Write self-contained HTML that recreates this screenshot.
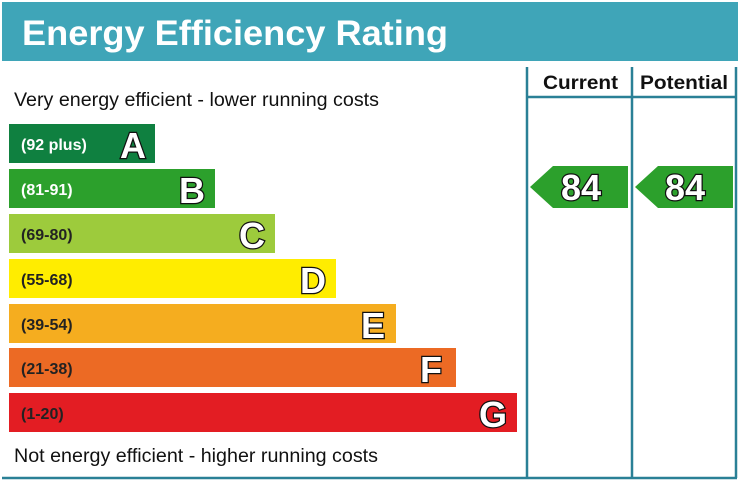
<!DOCTYPE html>
<html><head><style>html,body{margin:0;padding:0;background:#fff}svg{display:block}</style></head>
<body>
<svg width="738" height="483" xmlns="http://www.w3.org/2000/svg" font-family="Liberation Sans, Arial, sans-serif">
<rect x="0" y="0" width="738" height="483" fill="#fff"/>
<rect x="2" y="2" width="736" height="59" fill="#3fa5b8"/>
<text x="22" y="45" font-size="35" font-weight="bold" fill="#fff" textLength="426" lengthAdjust="spacingAndGlyphs">Energy Efficiency Rating</text>
<g stroke="#2a8096" stroke-width="2.5" fill="none">
<line x1="527" y1="67" x2="527" y2="478"/>
<line x1="632" y1="67" x2="632" y2="478"/>
<line x1="736" y1="67" x2="736" y2="478"/>
<line x1="527" y1="97" x2="737" y2="97"/>
<line x1="2" y1="478" x2="737" y2="478"/>
</g>
<text x="543" y="89" font-size="19" font-weight="bold" fill="#111" textLength="75" lengthAdjust="spacingAndGlyphs">Current</text>
<text x="640" y="89" font-size="19" font-weight="bold" fill="#111" textLength="88" lengthAdjust="spacingAndGlyphs">Potential</text>
<text x="14" y="106" font-size="19" fill="#111" textLength="365" lengthAdjust="spacingAndGlyphs">Very energy efficient - lower running costs</text>
<text x="14" y="462" font-size="19" fill="#111" textLength="364" lengthAdjust="spacingAndGlyphs">Not energy efficient - higher running costs</text>
<g font-weight="bold">
<rect x="9" y="124" width="146" height="39" fill="#0f8040"/>
<rect x="9" y="169" width="206" height="39" fill="#2ca02c"/>
<rect x="9" y="214" width="266" height="39" fill="#9dcb3c"/>
<rect x="9" y="259" width="327" height="39" fill="#ffed00"/>
<rect x="9" y="304" width="387" height="39" fill="#f5ad1f"/>
<rect x="9" y="348" width="447" height="39" fill="#ec6a24"/>
<rect x="9" y="393" width="508" height="39" fill="#e31d23"/>
<g font-size="16">
<text x="21" y="150" fill="#fff">(92 plus)</text>
<text x="21" y="195" fill="#fff">(81-91)</text>
<text x="21" y="240" fill="#222">(69-80)</text>
<text x="21" y="285" fill="#222">(55-68)</text>
<text x="21" y="330" fill="#222">(39-54)</text>
<text x="21" y="374" fill="#222">(21-38)</text>
<text x="21" y="419" fill="#222">(1-20)</text>
</g>
<g font-size="36" fill="#fff" stroke="#111" stroke-width="2.5" paint-order="stroke" text-anchor="end">
<text x="146" y="158">A</text>
<text x="205" y="203">B</text>
<text x="265" y="248">C</text>
<text x="326" y="293">D</text>
<text x="385" y="338">E</text>
<text x="442" y="382">F</text>
<text x="507" y="427">G</text>
</g>
<polygon points="530,187 553,166 628,166 628,208 553,208" fill="#2ca02c"/>
<polygon points="635,187 658,166 733,166 733,208 658,208" fill="#2ca02c"/>
<g font-size="36" fill="#fff" stroke="#111" stroke-width="2.5" paint-order="stroke" text-anchor="middle">
<text x="581" y="200">84</text>
<text x="685" y="200">84</text>
</g>
</g>
</svg>
</body></html>
